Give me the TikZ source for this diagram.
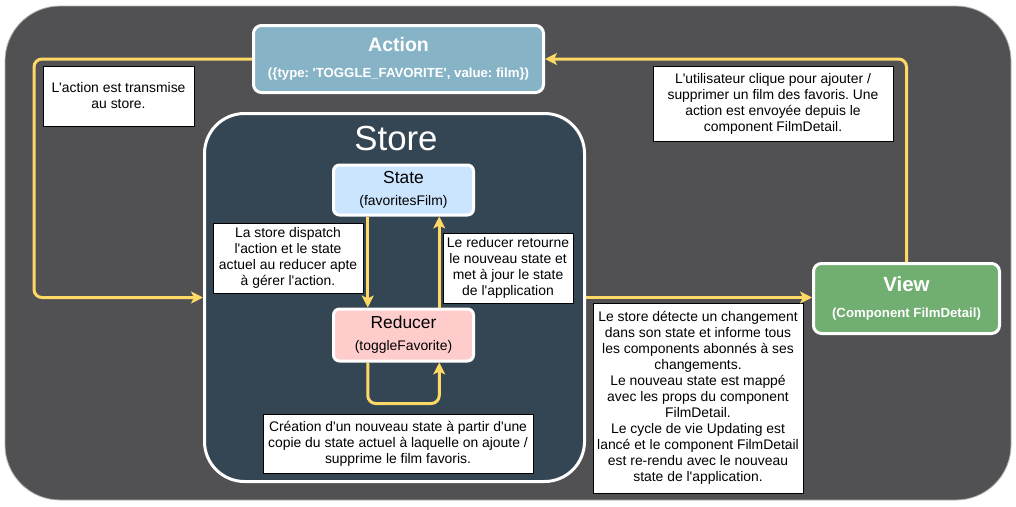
\documentclass[tikz,border=0pt]{standalone}
\usepackage{fontspec}
\setmainfont{Liberation Sans}[Ligatures=TeXOff]
\usetikzlibrary{arrows.meta, calc, positioning}
\definecolor{bgGray}{HTML}{515153}
\definecolor{storeSlate}{HTML}{344553}
\definecolor{actionBlue}{HTML}{86B4C6}
\definecolor{stateBlue}{HTML}{CCE5FF}
\definecolor{reducerPink}{HTML}{FFCCCC}
\definecolor{viewGreen}{HTML}{71AE71}
\definecolor{flowYellow}{HTML}{FFD966}
\tikzset{
    mainBox/.style={rectangle, rounded corners=8pt, draw=white, line width=3pt, text=white, align=center, inner sep=0pt},
    innerBox/.style={rectangle, rounded corners=6pt, draw=white, line width=3pt, align=center, inner sep=0pt, minimum width=140pt, minimum height=50pt},
    noteBox/.style={rectangle, draw=black, fill=white, line width=0.8pt, align=center, inner sep=0pt, font=\fontsize{13.9}{16}\selectfont},
    flowEdge/.style={-{Stealth[length=12pt, width=12pt, inset=3pt]}, draw=flowYellow, line width=3pt, rounded corners=8pt},
}
\newcommand{\drawNote}[5]{
    % nom, centre, largeur, hauteur, texte
    \node[noteBox, minimum width=#3, minimum height=#4] (#1) at (#2) {#5};
}
\newcommand{\titleText}[3]{%
    {\fontsize{#1}{#1}\selectfont\bfseries #2}\\[14pt]%
    {\fontsize{13.2}{15}\selectfont\bfseries #3}%
}
\newcommand{\innerText}[2]{%
    {\fontsize{17.4}{18}\selectfont #1}\\[10pt]%
    {\fontsize{13.9}{15}\selectfont #2}%
}

\begin{document}
\frenchspacing
\begin{tikzpicture}[x=1pt, y=-1pt]
        \useasboundingbox (0,0) rectangle (1016,506);
        \fill[bgGray, draw=gray!60, line width=0.8pt, rounded corners=55pt] (5,6) rectangle (1011,500);

        \node[mainBox, fill=storeSlate, rounded corners=40pt, minimum width=380pt, minimum height=368pt] (store) at (394.5,297.5) {};
        \node[text=white, font=\fontsize{34.8}{40}\selectfont] (storeTitle) at (396,139) {Store};

        \node[mainBox, fill=actionBlue, minimum width=290pt, minimum height=67pt] (action) at (398.5,59) {\titleText{19.5}{Action}{(\{type: 'TOGGLE\_FAVORITE', value: film\})}};
        \node[mainBox, fill=viewGreen, minimum width=186pt, minimum height=70pt] (view) at (906.5,298.5) {\titleText{20.5}{View}{(Component FilmDetail)}};
        \node[innerBox, fill=stateBlue] (state) at (403.5,190) {\innerText{State}{(favoritesFilm)}};
        \node[innerBox, fill=reducerPink, minimum height=52pt] (reducer) at (403.5,335) {\innerText{Reducer}{(toggleFavorite)}};

        \drawNote{noteAction}{118.5,96}{151pt}{60pt}{L'action est transmise\\au store.}
        \drawNote{noteUser}{773,103.5}{240pt}{75pt}{L'utilisateur clique pour ajouter /\\supprimer un film des favoris. Une\\action est envoyée depuis le\\component FilmDetail.}
        \drawNote{noteDispatch}{288,258}{150pt}{70pt}{La store dispatch\\l'action et le state\\actuel au reducer apte\\à gérer l'action.}
        \drawNote{noteReturn}{508,268}{130pt}{70pt}{Le reducer retourne\\le nouveau state et\\met à jour le state\\de l'application}
        \drawNote{noteCreate}{398,443.5}{270pt}{59pt}{Création d'un nouveau state à partir d'une\\copie du state actuel à laquelle on ajoute /\\supprime le film favoris.}
        \drawNote{noteStore}{698,398}{210pt}{190pt}{Le store détecte un changement\\dans son state et informe tous\\les components abonnés à ses\\changements.\\Le nouveau state est mappé\\avec les props du component\\FilmDetail.\\Le cycle de vie Updating est\\lancé et le component FilmDetail\\est re-rendu avec le nouveau\\state de l'application.}

        \coordinate (leftRail) at (34,0);
        \coordinate (loopLeft) at ($(reducer.south west)!0.25!(reducer.south east)$);
        \coordinate (loopRight) at ($(reducer.south west)!0.75!(reducer.south east)$);

        \draw[flowEdge] (action.west) -- (action.west -| leftRail) -- (store.west -| leftRail) -- (store.west);
        \draw[flowEdge] (view.north) -- (view.north |- action.east) -- (action.east);
        \draw[flowEdge] (store.east) -- (store.east -| view.west);
        \draw[flowEdge] ($(state.south west)!0.25!(state.south east)$) -- ($(reducer.north west)!0.25!(reducer.north east)$);
        \draw[flowEdge] ($(reducer.north west)!0.75!(reducer.north east)$) -- ($(state.south west)!0.75!(state.south east)$);
        \draw[flowEdge] (loopLeft) -- ++(0,41) -| (loopRight);

    \end{tikzpicture}
\end{document}
